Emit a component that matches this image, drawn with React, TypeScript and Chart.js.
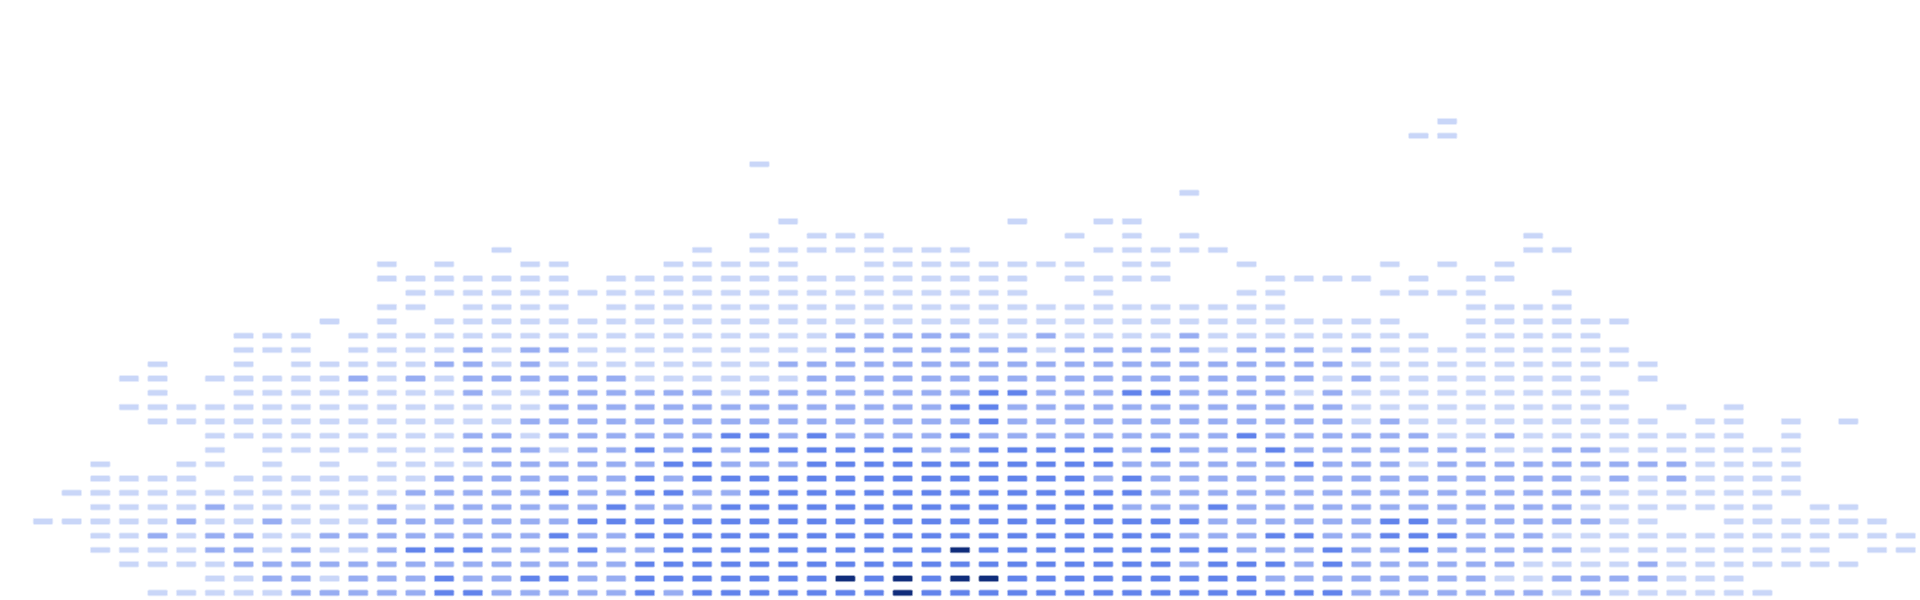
import React, { useEffect, useRef } from "react";
import { Chart, registerables } from "chart.js";

Chart.register(...registerables);

// Cell levels, one string per row from the bottom row up, one character per column.
// "." means no cell. Spaces only group the columns in tens.
const rowLevels: string[] = [
  ".....11111 2222233222 2232333333 3433333333 3333333222 2222121111 11.....",
  ".......112 2122232233 2233333334 3434433333 3333222222 2211222211 1......",
  "....111122 2222222222 2233333333 3333333333 3233323222 2221111211 11111..",
  "...1111221 2112333222 3223333333 3334333333 3332223223 2222211111 1111.11",
  "...1121221 1222222223 2233333333 3333333333 3222332233 3222111111 1111111",
  ".111112112 1112222222 3333333333 3333333333 3322222233 22222211.. 111111.",
  "...1111211 1112122222 2322233333 3333333332 2232222222 2222211111 11.11..",
  "..11111111 1111222223 2233223333 3333333333 2222222222 2222221111 111....",
  "...1111.11 1111122222 2232333333 3333333323 2222222222 2222212121 111....",
  "...1..11.1 .1.1111222 2223322233 3333333332 2222232221 2222222221 111....",
  ".......1.1 1111112221 2232323333 3322333332 3222322222 2211221111 111....",
  ".......111 1111112212 2222233232 2223222222 2223222222 1121111111 1.1....",
  ".....11111 1111111122 2222222222 2222322222 2222222121 11111111.1 1.1.1..",
  "....111111 1111111112 2222222222 2223322222 2222222111 1111111.1. 1......",
  ".....1..11 1111112112 2222212222 2222332223 3222212111 1111111... .......",
  "....11.111 1121212222 2211111122 2222222222 2222221211 111111.1.. .......",
  ".....1..1. 1111122121 1111111222 2222222222 2222222111 11111111.. .......",
  "........11 1.11112122 1111111112 2222221222 2212221211 1111111... .......",
  "........11 1.11111111 1111111112 2222112111 1211111111 .11111.... .......",
  ".......... .1.1.11111 1111111111 1111111111 111111111. .111111... .......",
  ".......... ...11.1111 .111111111 1111111111 11111..... .1111..... .......",
  ".......... ....111111 1111111111 111111..1. ...11...11 11..1..... .......",
  ".......... ...1111111 .111111111 111111.111 1...1111.1 .11....... .......",
  ".......... ...1.1..11 ...11111.. 11111111.1 1..1....1. 1.1....... .......",
  ".......... .......1.. ....1.1111 1111....11 111....... ...11..... .......",
  ".......... .......... ......1.11 1......1.1 .1........ ...1...... .......",
  ".......... .......... .......1.. .....1..11 .......... .......... .......",
  ".......... .......... .......... .......... .......... .......... .......",
  ".......... .......... .......... .......... .1........ .......... .......",
  ".......... .......... .......... .......... .......... .......... .......",
  ".......... .......... ......1... .......... .......... .......... .......",
  ".......... .......... .......... .......... .......... .......... .......",
  ".......... .......... .......... .......... .........1 1......... .......",
  ".......... .......... .......... .......... .......... 1......... .......",
];

const rowCount = 42;
const levelColors = ["", "#c9d6f8", "#97adf2", "#6183eb", "#102d7b"];
const haloColors = ["", "rgba(201,214,248,0.45)", "rgba(151,173,242,0.45)", "rgba(97,131,235,0.4)", "rgba(16,45,123,0.4)"];

const cells = rowLevels.map((r) => r.replace(/ /g, "").split(""));
const columns = cells[0].map((_, i) => String(i));

export default function App() {
  const ref = useRef<HTMLCanvasElement>(null);
  useEffect(() => {
    document.body.style.margin = "0";
    const chart = new Chart(ref.current as HTMLCanvasElement, {
      type: "bar",
      data: {
        labels: columns,
        datasets: cells.map((row, k) => ({
          label: String(k),
          data: row.map((c) => (c === "." ? null : [k + 0.25, k + 0.75])) as any,
          backgroundColor: row.map((c) => (c === "." ? "transparent" : levelColors[Number(c)])),
          borderColor: row.map((c) => (c === "." ? "transparent" : haloColors[Number(c)])),
          borderWidth: 1,
          grouped: false,
          barPercentage: 0.735,
          categoryPercentage: 1,
          borderSkipped: false,
          borderRadius: 2,
        })),
      },
      options: {
        animation: false,
        responsive: false,
        devicePixelRatio: 1,
        layout: { padding: 0 },
        plugins: { legend: { display: false }, tooltip: { enabled: false }, title: { display: false } },
        scales: {
          x: { display: false, offset: true },
          y: { display: false, min: 0, max: rowCount },
        },
      },
    });
    return () => chart.destroy();
  }, []);
  return <canvas ref={ref} width={1920} height={600} style={{ display: "block" }} />;
}
